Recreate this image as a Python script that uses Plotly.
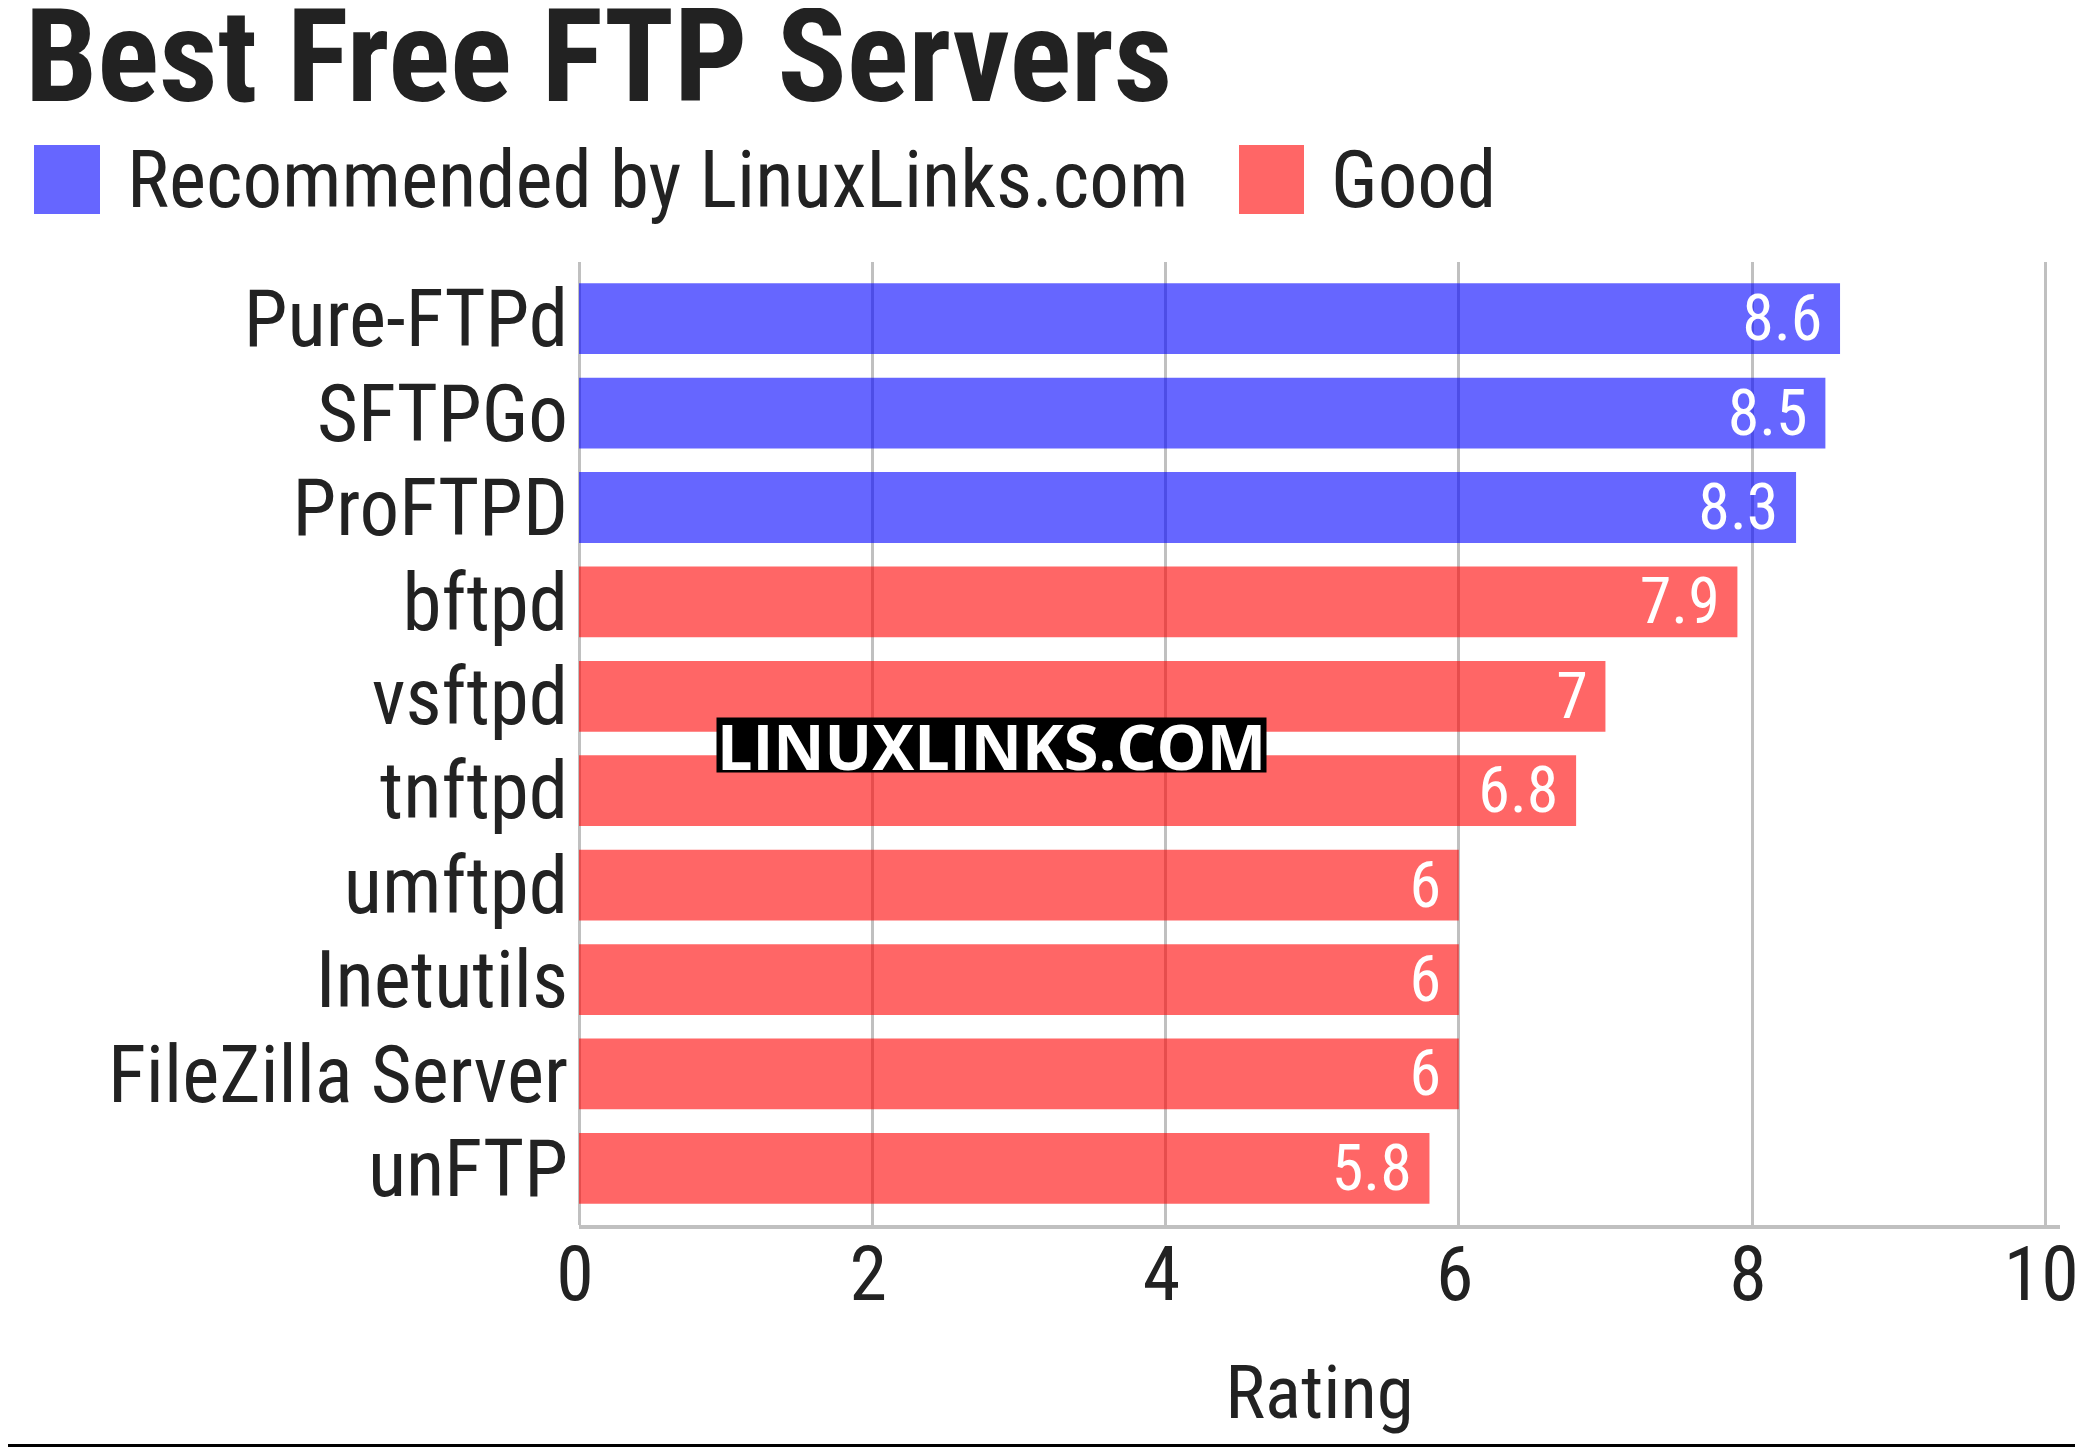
import plotly.graph_objects as go

servers = ["Pure-FTPd", "SFTPGo", "ProFTPD", "bftpd", "vsftpd", "tnftpd",
           "umftpd", "Inetutils", "FileZilla Server", "unFTP"]
ratings = [8.6, 8.5, 8.3, 7.9, 7, 6.8, 6, 6, 6, 5.8]
groups = ["Recommended by LinuxLinks.com"] * 3 + ["Good"] * 7
group_colors = {"Recommended by LinuxLinks.com": "rgba(0,0,255,0.6)",
                "Good": "rgba(255,0,0,0.6)"}
x_ticks = [0, 2, 4, 6, 8, 10]

FONT = "Roboto Condensed"
INK = "#222222"
GRID = "#c0c0c0"

# the page body has an 8px margin, so the figure is drawn 8px smaller on each side
# and every target below is given in window pixels
W, H = 2067, 1439
PLOT_L, PLOT_R, PLOT_T, PLOT_B = 579, 2060, 262, 1225


def px_x(p):
    return (p - PLOT_L) / (PLOT_R - PLOT_L)


def px_y(p):
    return (PLOT_B - p) / (PLOT_B - PLOT_T)


fig = go.Figure()
for g, col in group_colors.items():
    ys = [s for s, gg in zip(servers, groups) if gg == g]
    xs = [r for r, gg in zip(ratings, groups) if gg == g]
    fig.add_trace(go.Bar(
        x=xs, y=ys, orientation="h", name=g, marker=dict(color=col, line_width=0),
        text=[f"{v:g}\u00a0" for v in xs], textposition="inside",
        insidetextanchor="end", constraintext="none", textangle=0,
        textfont=dict(family=FONT, size=64, color="white"),
        showlegend=False, hoverinfo="x+y"))

fig.update_layout(
    width=W, height=H,
    margin=dict(l=PLOT_L - 8, r=W - (PLOT_R - 8), t=PLOT_T - 8, b=H - (PLOT_B - 8)),
    plot_bgcolor="white", paper_bgcolor="white",
    barmode="overlay", bargap=0.25,
    font=dict(family=FONT, color=INK),
    title=dict(text="Best Free FTP Servers", x=17 / W, xanchor="left", xref="container",
               y=0.9666, yanchor="middle", yref="container",
               font=dict(family=FONT, size=129, weight="bold", color=INK)),
    xaxis=dict(
        range=[0, 10.1], tickvals=x_ticks,
        showgrid=True, gridcolor=GRID, gridwidth=3,
        zeroline=True, zerolinecolor=GRID, zerolinewidth=3,
        showline=True, linecolor=GRID, linewidth=4,
        # small nudge so the "10" at the page edge stays inside the figure
        ticks="", ticklabelstandoff=-20, ticklabelshift=-4, ticklabeloverflow="allow",
        automargin=False, tickfont=dict(family=FONT, size=76, color=INK),
        title=dict(text="Rating", font=dict(family=FONT, size=75, color=INK), standoff=48)),
    yaxis=dict(
        categoryorder="array", categoryarray=servers, range=[9.6, -0.6],
        tickmode="array", tickvals=servers, ticktext=servers,
        showgrid=False, zeroline=False, showline=False, automargin=False,
        ticks="", ticklabelstandoff=10,
        tickfont=dict(family=FONT, size=79, color=INK)),
)

# legend drawn as squares + labels, sized like the reference
legend_items = [("Recommended by LinuxLinks.com", 34, 100, 125),
                ("Good", 1239, 1304, 1329)]
for label, sx0, sx1, tx in legend_items:
    fig.add_shape(type="rect", xref="paper", yref="paper",
                  x0=px_x(sx0), x1=px_x(sx1), y0=px_y(214), y1=px_y(145),
                  fillcolor=group_colors[label], line_width=0)
    fig.add_annotation(x=px_x(tx), y=px_y(180), xref="paper", yref="paper",
                       xanchor="left", yanchor="middle", showarrow=False, text=label,
                       font=dict(family=FONT, size=79, color=INK))

# watermark
fig.add_annotation(x=px_x(991), y=px_y(745), xref="paper", yref="paper",
                   xanchor="center", yanchor="middle", showarrow=False,
                   text="LINUXLINKS.COM", bgcolor="black", borderpad=0,
                   width=549, height=54,
                   font=dict(family="Open Sans", size=63, weight="bold", color="white"))

# bottom rule (kept just inside the figure)
fig.add_shape(type="line", xref="paper", yref="paper",
              x0=px_x(8), x1=px_x(2075), y0=px_y(1445.5), y1=px_y(1445.5),
              line=dict(color="black", width=3))

fig.write_html("out.html")
